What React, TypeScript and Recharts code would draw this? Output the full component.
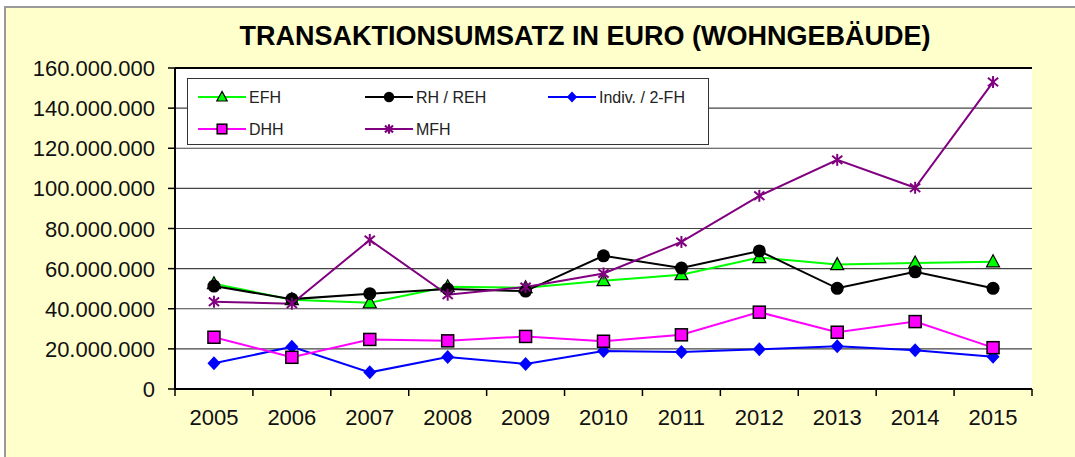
import React from 'react'
import {
  LineChart,
  Line,
  XAxis,
  YAxis,
  CartesianGrid,
  Legend,
  ReferenceLine,
} from 'recharts'

const years = ['2005', '2006', '2007', '2008', '2009', '2010', '2011', '2012', '2013', '2014', '2015']

const efh = [52500000, 44500000, 43000000, 51000000, 50500000, 54000000, 57000000, 65500000, 62000000, 62800000, 63400000]
const rhReh = [51300000, 44800000, 47500000, 49800000, 48800000, 66400000, 60300000, 68800000, 50200000, 58400000, 50200000]
const indiv = [12800000, 21000000, 8300000, 16000000, 12500000, 18900000, 18400000, 19800000, 21300000, 19300000, 16100000]
const dhh = [25800000, 15800000, 24700000, 24000000, 26200000, 23800000, 27000000, 38300000, 28300000, 33600000, 20600000]
const mfh = [43500000, 42500000, 74300000, 47000000, 50800000, 57600000, 73300000, 96300000, 114200000, 100300000, 153000000]

const yTicks = [0, 20000000, 40000000, 60000000, 80000000, 100000000, 120000000, 140000000, 160000000]

const data = years.map((year, i) => ({
  year,
  efh: efh[i],
  rh: rhReh[i],
  indiv: indiv[i],
  dhh: dhh[i],
  mfh: mfh[i],
}))

const FONT = '"Liberation Sans", Arial, sans-serif'
const W = 1075
const H = 457
const PLOT_LEFT = 175
const PLOT_RIGHT = 1032
const BAND = (PLOT_RIGHT - PLOT_LEFT) / years.length

type Marker = 'triangle' | 'circle' | 'diamond' | 'square' | 'star'

function MarkerShape({ type, cx, cy, color, s = 1 }: { type: Marker; cx: number; cy: number; color: string; s?: number }) {
  if (cx == null || cy == null) return null
  if (type === 'triangle') {
    return (
      <path
        d={`M${cx},${cy - 7 * s} L${cx + 6.5 * s},${cy + 5 * s} L${cx - 6.5 * s},${cy + 5 * s} Z`}
        fill={color}
        stroke="#000"
        strokeWidth={1.2}
      />
    )
  }
  if (type === 'circle') return <circle cx={cx} cy={cy} r={6.5 * s} fill="#000" />
  if (type === 'diamond') {
    return (
      <path
        d={`M${cx},${cy - 7 * s} L${cx + 6.5 * s},${cy} L${cx},${cy + 7 * s} L${cx - 6.5 * s},${cy} Z`}
        fill={color}
      />
    )
  }
  if (type === 'square') {
    const h = 6 * s
    return <rect x={cx - h} y={cy - h} width={2 * h} height={2 * h} fill={color} stroke="#000" strokeWidth={1.5} />
  }
  const r = 6 * s
  return (
    <g stroke={color} strokeWidth={2}>
      <line x1={cx} y1={cy - r} x2={cx} y2={cy + r} />
      <line x1={cx - r * 0.85} y1={cy - r * 0.7} x2={cx + r * 0.85} y2={cy + r * 0.7} />
      <line x1={cx - r * 0.85} y1={cy + r * 0.7} x2={cx + r * 0.85} y2={cy - r * 0.7} />
    </g>
  )
}

const series: { key: string; name: string; color: string; marker: Marker }[] = [
  { key: 'efh', name: 'EFH', color: '#00ff00', marker: 'triangle' },
  { key: 'rh', name: 'RH / REH', color: '#000000', marker: 'circle' },
  { key: 'indiv', name: 'Indiv. / 2-FH', color: '#0000ff', marker: 'diamond' },
  { key: 'dhh', name: 'DHH', color: '#ff00ff', marker: 'square' },
  { key: 'mfh', name: 'MFH', color: '#800080', marker: 'star' },
]

const fmt = (v: number) => v.toLocaleString('de-DE')

const YTick = ({ x, y, payload }: any) => (
  <g>
    <line x1={x - 7} x2={x} y1={y} y2={y} stroke="#000" strokeWidth={1.5} />
    <text x={x - 20} y={y + 8} textAnchor="end" fontSize={22} fontFamily={FONT} fill="#111">
      {fmt(payload.value)}
    </text>
  </g>
)

const XTick = ({ x, y, payload, index }: any) => (
  <g>
    <line x1={x - BAND / 2} x2={x - BAND / 2} y1={y} y2={y + 7} stroke="#000" strokeWidth={1.5} />
    {index === years.length - 1 && (
      <line x1={x + BAND / 2} x2={x + BAND / 2} y1={y} y2={y + 7} stroke="#000" strokeWidth={1.5} />
    )}
    <text x={x} y={y + 36} textAnchor="middle" fontSize={22} fontFamily={FONT} fill="#111">
      {payload.value}
    </text>
  </g>
)

const legendCols = [11, 178, 361]

const LegendBox = () => (
  <svg width={522} height={67} style={{ display: 'block' }}>
    <rect x={0.5} y={0.5} width={521} height={66} fill="#fff" stroke="#333" strokeWidth={1} />
    {series.map((s, i) => {
      const lx = legendCols[i % 3]
      const ly = i < 3 ? 19 : 51
      return (
        <g key={s.key}>
          <line x1={lx} x2={lx + 48} y1={ly} y2={ly} stroke={s.color} strokeWidth={2} />
          <MarkerShape type={s.marker} cx={lx + 24} cy={ly} color={s.color} s={0.8} />
          <text x={lx + 51} y={ly + 6} fontSize={16} fontFamily={FONT} fill="#222">
            {s.name}
          </text>
        </g>
      )
    })}
  </svg>
)

export default function App() {
  return (
    <div style={{ position: 'absolute', left: 0, top: 0, width: W, height: H, background: '#fff' }}>
      <div
        style={{
          position: 'absolute',
          left: 4,
          top: 6,
          width: W - 4,
          height: H - 6,
          boxSizing: 'border-box',
          background: '#ffffcc',
          borderTop: '2px solid #9a9a9a',
          borderLeft: '2px solid #9a9a9a',
        }}
      />
      <div
        style={{
          position: 'absolute',
          left: 85,
          top: 21,
          width: 1000,
          textAlign: 'center',
          fontFamily: FONT,
          fontWeight: 'bold',
          fontSize: 27,
          lineHeight: '30px',
          color: '#000',
        }}
      >
        TRANSAKTIONSUMSATZ IN EURO (WOHNGEBÄUDE)
      </div>
      <div style={{ position: 'absolute', left: 0, top: 0 }}>
        <LineChart width={W} height={H} data={data} margin={{ top: 68, right: W - PLOT_RIGHT, left: 0, bottom: 38 }}>
          <CartesianGrid vertical={false} stroke="#444" strokeWidth={1.2} fill="#fff" />
          <XAxis
            dataKey="year"
            height={30}
            interval={0}
            padding={{ left: BAND / 2, right: BAND / 2 }}
            tickSize={0}
            tickMargin={0}
            tickLine={false}
            axisLine={{ stroke: '#000', strokeWidth: 2 }}
            tick={<XTick />}
          />
          <YAxis
            width={PLOT_LEFT}
            domain={[0, 160000000]}
            ticks={yTicks}
            interval={0}
            tickSize={0}
            tickMargin={0}
            tickLine={false}
            axisLine={{ stroke: '#000', strokeWidth: 2 }}
            tick={<YTick />}
          />
          <YAxis
            yAxisId="r"
            orientation="right"
            width={0}
            domain={[0, 160000000]}
            tick={false}
            tickLine={false}
            axisLine={{ stroke: '#000', strokeWidth: 2 }}
          />
          <ReferenceLine y={160000000} stroke="#000" strokeWidth={2} />
          <Legend
            layout="vertical"
            align="center"
            verticalAlign="middle"
            content={() => <LegendBox />}
            wrapperStyle={{ position: 'absolute', left: 187, top: 78, width: 522, height: 67 }}
          />
          {series.map((s) => (
            <Line
              key={s.key}
              dataKey={s.key}
              name={s.name}
              type="linear"
              stroke={s.color}
              strokeWidth={2}
              isAnimationActive={false}
              dot={(p: any) => (
                <MarkerShape key={`${s.key}-${p.index}`} type={s.marker} cx={p.cx} cy={p.cy} color={s.color} />
              )}
              activeDot={false}
            />
          ))}
        </LineChart>
      </div>
    </div>
  )
}
